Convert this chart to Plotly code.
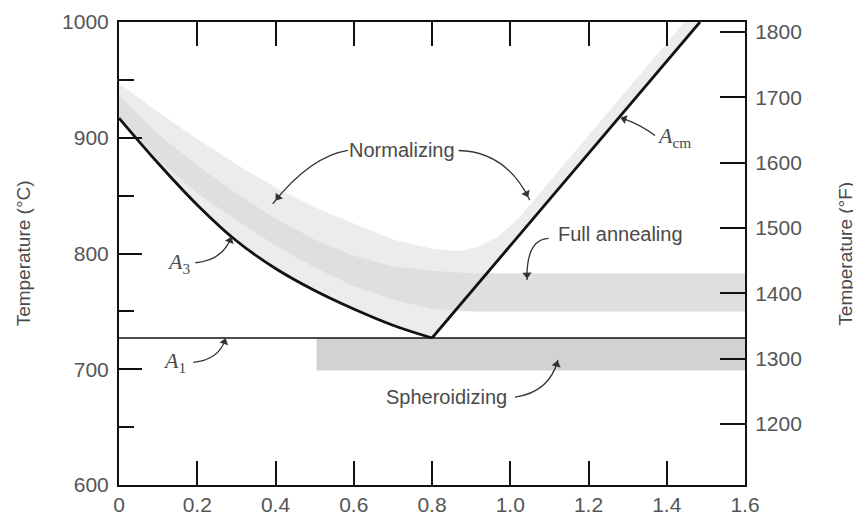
import math
import plotly.graph_objects as go

# ---------------- data ----------------
# A3 line (hypoeutectoid boundary), wt% C vs °C
a3_x = [0, 0.1, 0.2, 0.3, 0.4, 0.5, 0.6, 0.7, 0.8]
a3_T = [917, 878, 842, 811, 787, 768, 752, 738, 727]

# Acm line (hypereutectoid boundary)
acm_x = [0.8, 1.485]
acm_T = [727, 1000]

# A1 eutectoid line
a1_x = [0, 1.6]
a1_T = [727, 727]

# Normalizing band upper edge
norm_x = [0, 0.1, 0.2, 0.3, 0.4, 0.5, 0.6, 0.7, 0.8, 0.87, 0.92, 0.97, 1.02, 1.2, 1.445]
norm_T = [947, 922, 899, 877, 857, 840, 826, 812, 804, 802, 806, 815, 830, 902, 1000]

# Full annealing band edges
ann_x = [0, 0.1, 0.2, 0.3, 0.4, 0.5, 0.6, 0.7, 0.8, 0.9, 1.6]
ann_lo_T = [918, 881, 852, 829, 807, 788, 772, 760, 752, 750, 750]
ann_hi_T = [937, 903, 876, 852, 830, 812, 798, 789, 785, 783, 783]

# Spheroidizing band
sph_x = [0.505, 1.6]
sph_T = [699, 727]

# Axis ticks
x_ticks = [0, 0.2, 0.4, 0.6, 0.8, 1.0, 1.2, 1.4, 1.6]
x_ticklabels = ["0", "0.2", "0.4", "0.6", "0.8", "1.0", "1.2", "1.4", "1.6"]
c_ticks = [600, 700, 800, 900, 1000]
f_ticks = [1200, 1300, 1400, 1500, 1600, 1700, 1800]
f_range = [1106.5, 1815.5]

# ---------------- figure ----------------
fig = go.Figure()

LIGHT = "#ececec"
MED = "#dfdfdf"
DARK = "#d2d2d2"

# normalizing region polygon
poly_x = norm_x + acm_x[::-1] + a3_x[::-1][1:]
poly_T = norm_T + acm_T[::-1] + a3_T[::-1][1:]
fig.add_trace(go.Scatter(x=poly_x, y=poly_T, fill="toself", fillcolor=LIGHT,
                         line=dict(width=0), mode="lines", hoverinfo="skip", showlegend=False))

# full annealing band
fig.add_trace(go.Scatter(x=ann_x + ann_x[::-1], y=ann_hi_T + ann_lo_T[::-1], fill="toself",
                         fillcolor=MED, line=dict(width=0), mode="lines",
                         hoverinfo="skip", showlegend=False))

# spheroidizing band
fig.add_trace(go.Scatter(x=[sph_x[0], sph_x[1], sph_x[1], sph_x[0], sph_x[0]],
                         y=[sph_T[0], sph_T[0], sph_T[1], sph_T[1], sph_T[0]],
                         fill="toself", fillcolor=DARK, line=dict(width=0), mode="lines",
                         hoverinfo="skip", showlegend=False))

# phase lines
fig.add_trace(go.Scatter(x=a1_x, y=a1_T, mode="lines", line=dict(color="#111", width=1.6),
                         hoverinfo="skip", showlegend=False))
fig.add_trace(go.Scatter(x=a3_x, y=a3_T, mode="lines", line=dict(color="#111", width=2.8, shape="spline"),
                         hoverinfo="skip", showlegend=False))
fig.add_trace(go.Scatter(x=acm_x, y=acm_T, mode="lines", line=dict(color="#111", width=2.8),
                         hoverinfo="skip", showlegend=False))

# invisible trace to activate °F axis
fig.add_trace(go.Scatter(x=[0], y=[1500], yaxis="y2", mode="markers", marker=dict(opacity=0),
                         hoverinfo="skip", showlegend=False))

# ---------------- annotations ----------------
TXT = "#4a4a4a"
label_font = dict(family="Liberation Sans, Arial, sans-serif", size=20, color=TXT)
A_font = dict(family="Liberation Serif, Times New Roman, serif", size=22, color=TXT)

annotations = []
texts = [
    ("Normalizing", 0.724, 889, label_font),
    ("Full annealing", 1.283, 817, label_font),
    ("Spheroidizing", 0.838, 676, label_font),
    ("<i>A</i><sub>cm</sub>", 1.418, 901, A_font),
    ("<i>A</i><sub>3</sub>", 0.153, 792, A_font),
    ("<i>A</i><sub>1</sub>", 0.143, 706, A_font),
]
for t, x, y, f in texts:
    annotations.append(dict(text=t, x=x, y=y, xref="x", yref="y", showarrow=False,
                            font=f, xanchor="center", yanchor="middle"))

# plot-area scale (px per data unit) used for arrowhead orientation
PX_X = 626 / 1.6
PX_Y = 463 / 400

arrows = [
    ((0.585, 889), (0.49, 884), (0.393, 843)),
    ((0.868, 889), (0.99, 888), (1.05, 846)),
    ((1.098, 813), (1.04, 812), (1.043, 777)),
    ((1.37, 902), (1.33, 912), (1.285, 917)),
    ((0.195, 792), (0.265, 794), (0.287, 814)),
    ((0.19, 706), (0.255, 708), (0.272, 726)),
    ((1.012, 676), (1.10, 680), (1.122, 708)),
]
shapes = []
head_x, head_y, head_ang = [], [], []
for (x0, y0), (cx, cy), (x1, y1) in arrows:
    shapes.append(dict(type="path", xref="x", yref="y",
                       path=f"M {x0},{y0} Q {cx},{cy} {x1},{y1}",
                       line=dict(color="#333", width=1.3)))
    t = 0.93
    bx = (1 - t) ** 2 * x0 + 2 * (1 - t) * t * cx + t ** 2 * x1
    by = (1 - t) ** 2 * y0 + 2 * (1 - t) * t * cy + t ** 2 * y1
    dx, dy = x1 - cx, y1 - cy
    ang = math.degrees(math.atan2(dx * PX_X, dy * PX_Y))
    head_x.append(bx)
    head_y.append(by)
    head_ang.append(ang)

fig.add_trace(go.Scatter(x=head_x, y=head_y, mode="markers",
                         marker=dict(symbol="triangle-up", size=8, angle=head_ang, color="#333",
                                     line=dict(width=0)),
                         hoverinfo="skip", showlegend=False))

# axis titles
title_font = dict(family="Liberation Sans, Arial, sans-serif", size=19, color=TXT)
annotations.append(dict(text="Temperature (°C)", x=-0.152, y=0.5, xref="paper", yref="paper",
                        textangle=-90, showarrow=False, font=title_font,
                        xanchor="center", yanchor="middle"))
annotations.append(dict(text="Temperature (°F)", x=1.16, y=0.5, xref="paper", yref="paper",
                        textangle=-90, showarrow=False, font=title_font,
                        xanchor="center", yanchor="middle"))

tick_font = dict(family="Liberation Sans, Arial, sans-serif", size=21, color="#555")

# page body has an 8px default margin, so the margins are reduced accordingly
fig.update_layout(
    width=861, height=515, autosize=False,
    margin=dict(l=111, r=124, t=14, b=38, autoexpand=False),
    paper_bgcolor="white", plot_bgcolor="white",
    showlegend=False,
    annotations=annotations,
    shapes=shapes,
    xaxis=dict(range=[0, 1.6], tickvals=x_ticks, ticktext=x_ticklabels,
               ticks="inside", ticklen=24, tickwidth=1.8, tickcolor="#111",
               showline=True, linewidth=2, linecolor="#111", mirror="ticks",
               showgrid=False, zeroline=False, tickfont=tick_font, ticklabelstandoff=0,
               automargin=False),
    yaxis=dict(range=[600, 1000], tickvals=c_ticks,
               ticks="inside", ticklen=23, tickwidth=1.8, tickcolor="#111",
               minor=dict(ticks="inside", ticklen=15, tickwidth=1.8, tickcolor="#111",
                          tick0=650, dtick=100, showgrid=False),
               showline=True, linewidth=2, linecolor="#111", mirror=False,
               showgrid=False, zeroline=False, tickfont=tick_font, ticklabelstandoff=4,
               automargin=False),
    yaxis2=dict(range=f_range, tickvals=f_ticks, overlaying="y", side="right",
                ticks="inside", ticklen=25, tickwidth=1.8, tickcolor="#111",
                showline=True, linewidth=2, linecolor="#111",
                showgrid=False, zeroline=False, tickfont=tick_font, ticklabelstandoff=4,
                automargin=False),
)

fig.write_html("out.html")
